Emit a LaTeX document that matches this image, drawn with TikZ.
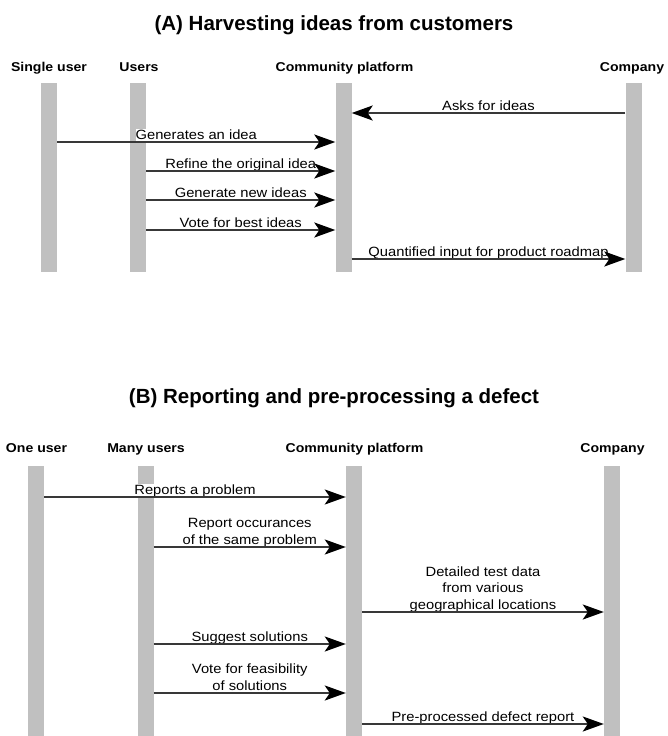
\documentclass[tikz,border=0pt]{standalone}
\usepackage{fontspec}
\setmainfont{Liberation Sans}
\newfontfamily\lblfont[FakeStretch=1.1]{Liberation Sans}
\usetikzlibrary{arrows.meta}
\definecolor{bargray}{RGB}{192,192,192}
\begin{document}
\begin{tikzpicture}[x=1pt,y=-1pt,
  bar/.style={rectangle, fill=bargray, draw=none, minimum width=16pt, inner sep=0pt},
  hdr/.style={font=\lblfont\bfseries\fontsize{12.8}{15}\selectfont, anchor=base, inner sep=0pt},
  ttl/.style={font=\bfseries\fontsize{20.5}{24}\selectfont, anchor=base, inner sep=0pt},
  lbl/.style={font=\lblfont\fontsize{13.4}{16.5}\selectfont, anchor=south, inner sep=0pt, fill=white, align=center},
  msg/.style={line width=2pt, draw=black!78, -{Stealth[length=21pt,width=15pt,inset=5pt,color=black]}}]
\useasboundingbox (0,0) rectangle (668,736);

% ---------- (A) ----------
\node[ttl] (ta) at (334,30) {(A) Harvesting ideas from customers};
\node[hdr] (ha1) at (49,71) {Single user};
\node[hdr] (ha2) at (139,71) {Users};
\node[hdr] (ha3) at (344.5,71) {Community platform};
\node[hdr] (ha4) at (632,71) {Company};

\node[bar, minimum height=189pt] (a1) at (49,177.5) {};
\node[bar, minimum height=189pt] (a2) at (138,177.5) {};
\node[bar, minimum height=189pt] (a3) at (343.5,177.5) {};
\node[bar, minimum height=189pt] (a4) at (633.5,177.5) {};

\coordinate (ya1) at (0,113);
\coordinate (ya2) at (0,142);
\coordinate (ya3) at (0,171);
\coordinate (ya4) at (0,200);
\coordinate (ya5) at (0,230);
\coordinate (ya6) at (0,259);

\path (a4.west |- ya1) -- node[lbl] {Asks for ideas\vphantom{gp}} (a3.east |- ya1);
\path (a1.east |- ya2) -- node[lbl] {Generates an idea\vphantom{gp}} (a3.west |- ya2);
\path (a2.east |- ya3) -- node[lbl] {Refine the original idea\vphantom{gp}} (a3.west |- ya3);
\path (a2.east |- ya4) -- node[lbl] {Generate new ideas\vphantom{gp}} (a3.west |- ya4);
\path (a2.east |- ya5) -- node[lbl] {Vote for best ideas\vphantom{gp}} (a3.west |- ya5);
\path (a3.east |- ya6) -- node[lbl] {Quantified input for product roadmap\vphantom{gp}} (a4.west |- ya6);

\draw[msg] (a4.west |- ya1) -- (a3.east |- ya1);
\draw[msg] (a1.east |- ya2) -- (a3.west |- ya2);
\draw[msg] (a2.east |- ya3) -- (a3.west |- ya3);
\draw[msg] (a2.east |- ya4) -- (a3.west |- ya4);
\draw[msg] (a2.east |- ya5) -- (a3.west |- ya5);
\draw[msg] (a3.east |- ya6) -- (a4.west |- ya6);

% ---------- (B) ----------
\node[ttl] (tb) at (334,403) {(B) Reporting and pre-processing a defect};
\node[hdr] (hb1) at (36.5,452) {One user};
\node[hdr] (hb2) at (146,452) {Many users};
\node[hdr] (hb3) at (354.5,452) {Community platform};
\node[hdr] (hb4) at (612.5,452) {Company};

\node[bar, minimum height=270pt] (b1) at (36,601) {};
\node[bar, minimum height=270pt] (b2) at (145.5,601) {};
\node[bar, minimum height=270pt] (b3) at (354,601) {};
\node[bar, minimum height=270pt] (b4) at (612,601) {};

\coordinate (yb1) at (0,497);
\coordinate (yb2) at (0,547);
\coordinate (yb3) at (0,612);
\coordinate (yb4) at (0,644);
\coordinate (yb5) at (0,693);
\coordinate (yb6) at (0,724);

\path (b1.east |- yb1) -- node[lbl] {Reports a problem\vphantom{gp}} (b3.west |- yb1);
\path (b2.east |- yb2) -- node[lbl] {Report occurances\\of the same problem\vphantom{gp}} (b3.west |- yb2);
\path (b3.east |- yb3) -- node[lbl] {Detailed test data\\from various\\geographical locations\vphantom{gp}} (b4.west |- yb3);
\path (b2.east |- yb4) -- node[lbl] {Suggest solutions\vphantom{gp}} (b3.west |- yb4);
\path (b2.east |- yb5) -- node[lbl] {Vote for feasibility\\of solutions\vphantom{gp}} (b3.west |- yb5);
\path (b3.east |- yb6) -- node[lbl] {Pre-processed defect report\vphantom{gp}} (b4.west |- yb6);

\draw[msg] (b1.east |- yb1) -- (b3.west |- yb1);
\draw[msg] (b2.east |- yb2) -- (b3.west |- yb2);
\draw[msg] (b3.east |- yb3) -- (b4.west |- yb3);
\draw[msg] (b2.east |- yb4) -- (b3.west |- yb4);
\draw[msg] (b2.east |- yb5) -- (b3.west |- yb5);
\draw[msg] (b3.east |- yb6) -- (b4.west |- yb6);
\end{tikzpicture}
\end{document}
